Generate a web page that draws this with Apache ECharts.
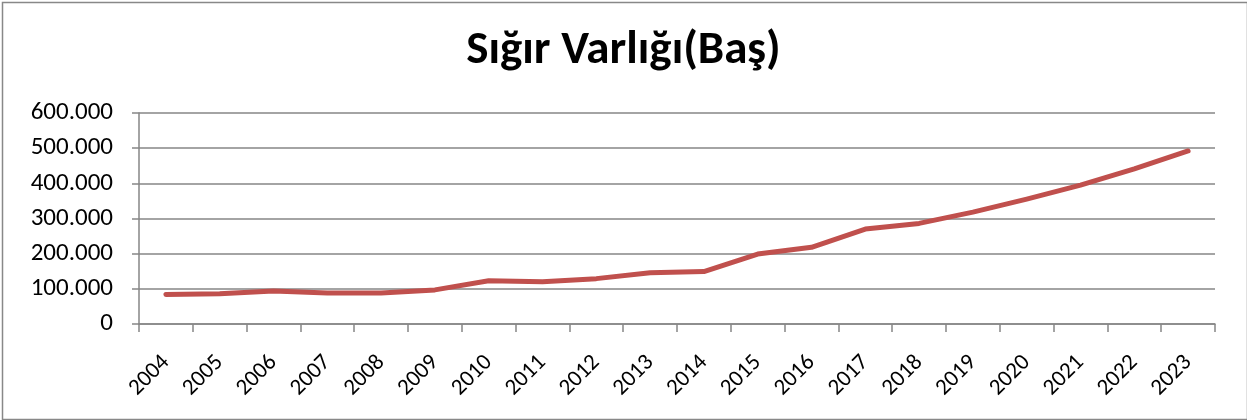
<!DOCTYPE html>
<html>
<head>
<meta charset="utf-8">
<script src="https://cdn.jsdelivr.net/npm/echarts@6/dist/echarts.min.js"></script>
<style>
html,body{margin:0;padding:0;background:#fff;}
#chart{width:1247px;height:420px;}
</style>
</head>
<body>
<div id="chart"></div>
<script>
const titleText = "Sığır Varlığı(Baş)";
const years = ["2004","2005","2006","2007","2008","2009","2010","2011","2012","2013","2014","2015","2016","2017","2018","2019","2020","2021","2022","2023"];
const cattle = [84000,86000,94000,88000,88000,97000,123000,120000,129000,146000,149000,199000,218000,270000,286000,318000,355000,395000,441000,492000];
const yTicks = [0,100000,200000,300000,400000,500000,600000];

function fmt(v){
  return String(v).replace(/\B(?=(\d{3})+(?!\d))/g,".");
}

const chart = echarts.init(document.getElementById('chart'), null, {renderer:'canvas'});
const font = "Calibri, Carlito, 'Open Sans', sans-serif";
chart.setOption({
  animation:false,
  backgroundColor:'#fff',
  graphic:[{
    type:'rect', left:0, top:0, z:-1,
    shape:{x:0.5,y:0.5,width:1245,height:417},
    style:{fill:'none',stroke:'#888888',lineWidth:1.5}
  }],
  title:{
    text:titleText, left:'center', top:23,
    textStyle:{fontFamily:font,fontWeight:'bold',fontSize:47,color:'#000'}
  },
  grid:{left:139,right:32,top:113,bottom:96,containLabel:false},
  xAxis:{
    type:'category', data:years, boundaryGap:true,
    axisLine:{lineStyle:{color:'#868686',width:1.5}},
    axisTick:{show:true,length:8,interval:0,lineStyle:{color:'#868686',width:1.5}},
    axisLabel:{rotate:45,interval:0,margin:35,fontFamily:font,fontSize:23,color:'#000'},
    splitLine:{show:false}
  },
  yAxis:{
    type:'value', min:yTicks[0], max:yTicks[yTicks.length-1], interval:yTicks[1]-yTicks[0],
    axisLine:{show:true,lineStyle:{color:'#868686',width:1.5}},
    axisTick:{show:true,length:7,lineStyle:{color:'#868686',width:1.5}},
    axisLabel:{formatter:fmt,margin:26,fontFamily:font,fontSize:25,color:'#000'},
    splitLine:{show:true,lineStyle:{color:'#868686',width:1.5}}
  },
  series:[{
    type:'line', data:cattle, showSymbol:false, symbol:'none',
    lineStyle:{color:'#C0504D',width:5,cap:'round',join:'round'},
    itemStyle:{color:'#C0504D'}
  }]
});
</script>
</body>
</html>
